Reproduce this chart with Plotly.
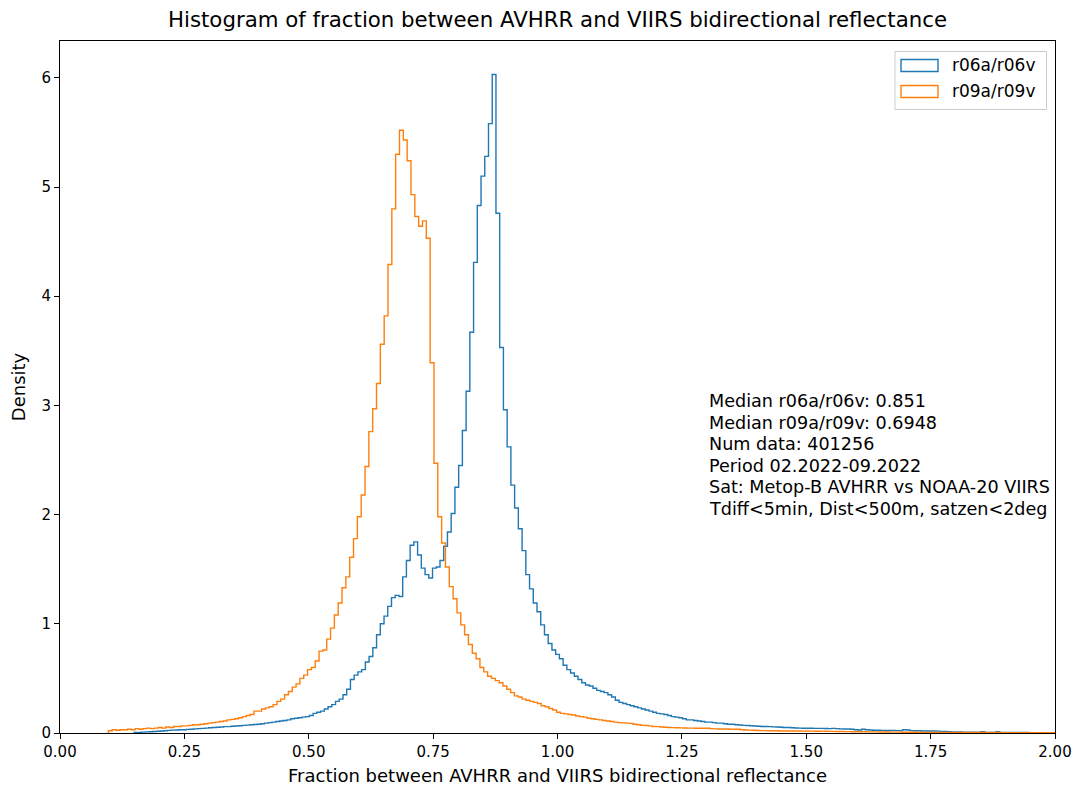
import numpy as np
import plotly.graph_objects as go

# ---------------- data (density per bin) ----------------
series_names = ["r06a/r06v", "r09a/r09v"]

# r06a/r06v bins
r06_start = 0.1488
r06_width = 0.0075
r06_density = [
    0.004, 0.006, 0.008, 0.01, 0.012, 0.014, 0.016, 0.018, 0.02, 0.024,
    0.026, 0.028, 0.03, 0.03, 0.033, 0.035, 0.038, 0.04, 0.042, 0.045,
    0.048, 0.05, 0.052, 0.055, 0.058, 0.058, 0.062, 0.064, 0.066, 0.07,
    0.072, 0.075, 0.078, 0.08, 0.085, 0.09, 0.095, 0.10, 0.105, 0.11,
    0.115, 0.12, 0.13, 0.135, 0.14, 0.145, 0.15, 0.16, 0.18, 0.19,
    0.20, 0.22, 0.24, 0.26, 0.29, 0.31, 0.35, 0.40, 0.49, 0.53,
    0.56, 0.58, 0.65, 0.70, 0.78, 0.90, 1.00, 1.07, 1.16, 1.24,
    1.26, 1.25, 1.43, 1.58, 1.72, 1.75, 1.63, 1.51, 1.45, 1.42,
    1.51, 1.52, 1.58, 1.71, 1.84, 2.01, 2.25, 2.45, 2.77, 3.13,
    3.67, 4.31, 4.83, 5.10, 5.28, 5.58, 6.03, 4.76, 3.53, 2.96,
    2.62, 2.27, 2.06, 1.87, 1.67, 1.45, 1.32, 1.19, 1.11, 0.99,
    0.90, 0.82, 0.76, 0.72, 0.68, 0.62, 0.58, 0.55, 0.52, 0.49,
    0.46, 0.44, 0.43, 0.41, 0.39, 0.38, 0.37, 0.35, 0.33, 0.30,
    0.28, 0.27, 0.26, 0.25, 0.24, 0.23, 0.22, 0.21, 0.20, 0.19,
    0.18, 0.175, 0.17, 0.16, 0.15, 0.145, 0.14, 0.13, 0.12, 0.12,
    0.115, 0.11, 0.105, 0.10, 0.10, 0.095, 0.09, 0.09, 0.085, 0.08,
    0.08, 0.075, 0.073, 0.07, 0.068, 0.066, 0.064, 0.062, 0.06, 0.06,
    0.058, 0.056, 0.055, 0.052, 0.05, 0.05, 0.048, 0.046, 0.045, 0.044,
    0.043, 0.043, 0.042, 0.042, 0.042, 0.041, 0.04, 0.042, 0.04, 0.038,
    0.036, 0.036, 0.034, 0.03, 0.028, 0.035, 0.03, 0.028, 0.025, 0.025,
    0.024, 0.023, 0.023, 0.024, 0.022, 0.022, 0.03, 0.028, 0.022, 0.02,
    0.02, 0.019, 0.019, 0.018, 0.018, 0.017, 0.015, 0.014, 0.012, 0.01,
    0.01, 0.009, 0.008, 0.008, 0.008, 0.007, 0.007, 0.012, 0.006, 0.006,
    0.006, 0.012, 0.005, 0.005, 0.005, 0.004, 0.004, 0.004, 0.004, 0.004,
    0.003, 0.003, 0.003, 0.003, 0.003, 0.003, 0.003,
]

# r09a/r09v bins
r09_start = 0.0972
r09_width = 0.0077
r09_density = [
    0.02, 0.03, 0.025, 0.03, 0.03, 0.035, 0.03, 0.04, 0.035, 0.04,
    0.045, 0.04, 0.045, 0.05, 0.045, 0.055, 0.05, 0.06, 0.06, 0.065,
    0.065, 0.07, 0.075, 0.075, 0.08, 0.085, 0.09, 0.095, 0.10, 0.105,
    0.11, 0.12, 0.125, 0.13, 0.14, 0.15, 0.16, 0.17, 0.20, 0.20,
    0.22, 0.23, 0.24, 0.26, 0.29, 0.31, 0.35, 0.38, 0.42, 0.45,
    0.50, 0.53, 0.58, 0.60, 0.66, 0.75, 0.76, 0.86, 0.96, 1.08,
    1.19, 1.33, 1.43, 1.61, 1.78, 1.98, 2.18, 2.44, 2.76, 2.97,
    3.20, 3.56, 3.82, 4.29, 4.80, 5.30, 5.52, 5.43, 5.24, 4.93,
    4.73, 4.64, 4.69, 4.53, 3.39, 2.47, 1.98, 1.74, 1.52, 1.34,
    1.23, 1.10, 0.99, 0.90, 0.81, 0.73, 0.68, 0.60, 0.56, 0.52,
    0.50, 0.48, 0.46, 0.43, 0.40, 0.37, 0.34, 0.33, 0.31, 0.30,
    0.29, 0.28, 0.27, 0.25, 0.24, 0.225, 0.21, 0.19, 0.18, 0.175,
    0.17, 0.165, 0.155, 0.15, 0.145, 0.135, 0.13, 0.125, 0.12, 0.115,
    0.11, 0.105, 0.10, 0.095, 0.093, 0.09, 0.088, 0.08, 0.075, 0.07,
    0.068, 0.065, 0.06, 0.058, 0.055, 0.052, 0.05, 0.049, 0.048, 0.047,
    0.046, 0.045, 0.045, 0.044, 0.043, 0.044, 0.043, 0.04, 0.038, 0.037,
    0.036, 0.036, 0.035, 0.034, 0.034, 0.03, 0.028, 0.026, 0.025, 0.023,
    0.022, 0.022, 0.021, 0.021, 0.02, 0.019, 0.019, 0.018, 0.018, 0.018,
    0.018, 0.017, 0.018, 0.017, 0.016, 0.016, 0.017, 0.016, 0.015, 0.015,
    0.014, 0.014, 0.013, 0.013, 0.012, 0.012, 0.011, 0.011, 0.010, 0.010,
    0.010, 0.009, 0.009, 0.009, 0.008, 0.008, 0.008, 0.007, 0.007, 0.007,
    0.007, 0.006, 0.006, 0.006, 0.006, 0.005, 0.005, 0.005, 0.005, 0.005,
    0.004, 0.004, 0.004, 0.004, 0.004, 0.004, 0.004, 0.004, 0.004, 0.004,
    0.004, 0.004, 0.004, 0.003, 0.003, 0.003, 0.003, 0.003, 0.003, 0.003,
    0.003, 0.003, 0.002, 0.002, 0.002, 0.002, 0.002,
]

x_ticks = [0.00, 0.25, 0.50, 0.75, 1.00, 1.25, 1.50, 1.75, 2.00]
y_ticks = [0, 1, 2, 3, 4, 5, 6]

info_lines = [
    "Median r06a/r06v: 0.851",
    "Median r09a/r09v: 0.6948",
    "Num data: 401256",
    "Period 02.2022-09.2022",
    "Sat: Metop-B AVHRR vs NOAA-20 VIIRS",
    "Tdiff<5min, Dist<500m, satzen<2deg",
]

title_text = "Histogram of fraction between AVHRR and VIIRS bidirectional reflectance"
xlabel = "Fraction between AVHRR and VIIRS bidirectional reflectance"
ylabel = "Density"

colors = ["#1f77b4", "#ff7f0e"]


def step_outline(start, width, dens):
    n = len(dens)
    edges = start + width * np.arange(n + 1)
    xs = [edges[0]] + list(edges)
    ys = [0.0] + list(dens) + [dens[-1]]
    xs.append(edges[-1])
    ys.append(0.0)
    return xs, ys


fig = go.Figure()
for (start, width, dens), color, name in zip(
    [(r06_start, r06_width, r06_density), (r09_start, r09_width, r09_density)],
    colors, series_names,
):
    xs, ys = step_outline(start, width, dens)
    fig.add_trace(go.Scatter(
        x=xs, y=ys, mode="lines", name=name,
        line=dict(color=color, width=1.4, shape="hv"),
        showlegend=False, hoverinfo="skip",
    ))

# ---------- layout geometry (pixels) ----------
W, H = 1080, 789
L, R, T, B = 60, 25, 41, 56
PW, PH = W - L - R, H - T - B


def px(xp):
    return (xp - L) / PW


def py(yp):
    return (H - B - yp) / PH


ymax = 6.337
font = "DejaVu Sans"
TICK_FS = 15
LABEL_FS = 18
TITLE_FS = 21.3
LEGEND_FS = 17
TEXT_FS = 17.6

shapes = []
annotations = []

# legend (drawn manually to mimic matplotlib patches)
shapes.append(dict(type="rect", xref="paper", yref="paper",
                   x0=px(895), x1=px(1046.5), y0=py(109.5), y1=py(51.5),
                   line=dict(color="rgba(204,204,204,1)", width=1),
                   fillcolor="rgba(255,255,255,0.8)", layer="above"))
for k, (name, color) in enumerate(zip(series_names, colors)):
    yc = 65.5 + 26 * k
    shapes.append(dict(type="rect", xref="paper", yref="paper",
                       x0=px(901), x1=px(938), y0=py(yc + 6), y1=py(yc - 6),
                       line=dict(color=color, width=1.4),
                       fillcolor="rgba(0,0,0,0)", layer="above"))
    annotations.append(dict(text=name, xref="paper", yref="paper",
                            x=px(950), y=py(yc), xanchor="left", yanchor="middle",
                            showarrow=False,
                            font=dict(family=font, size=LEGEND_FS, color="black")))

# info text block
for k, line in enumerate(info_lines):
    annotations.append(dict(text=line, xref="x", yref="paper",
                            x=1.3, y=py(401 + 21.6 * k), xanchor="left", yanchor="middle",
                            showarrow=False,
                            font=dict(family=font, size=TEXT_FS, color="black")))

axis_common = dict(
    showline=True, linecolor="black", linewidth=1, mirror=True,
    ticks="outside", ticklen=5, tickwidth=1, tickcolor="black",
    showgrid=False, zeroline=False,
    tickfont=dict(family=font, size=TICK_FS, color="black"),
)

fig.update_layout(
    width=W, height=H,
    margin=dict(l=L, r=R, t=T, b=B, autoexpand=False),
    paper_bgcolor="white", plot_bgcolor="white",
    font=dict(family=font, size=TICK_FS, color="black"),
    title=dict(text=title_text, x=px(557.5), xref="paper", xanchor="center",
               y=1 - 20 / H, yref="container", yanchor="middle",
               font=dict(family=font, size=TITLE_FS, color="black")),
    xaxis=dict(range=[0, 2], tickvals=x_ticks,
               ticktext=[f"{v:.2f}" for v in x_ticks],
               title=dict(text=xlabel, standoff=9,
                          font=dict(family=font, size=LABEL_FS, color="black")),
               **axis_common),
    yaxis=dict(range=[0, ymax], tickvals=y_ticks,
               ticktext=[str(v) for v in y_ticks],
               title=dict(text=ylabel, standoff=11,
                          font=dict(family=font, size=LABEL_FS, color="black")),
               **axis_common),
    shapes=shapes, annotations=annotations,
    showlegend=False,
)

fig.write_html("out.html", post_script="document.body.style.margin='0';",
               config={"displayModeBar": False})
